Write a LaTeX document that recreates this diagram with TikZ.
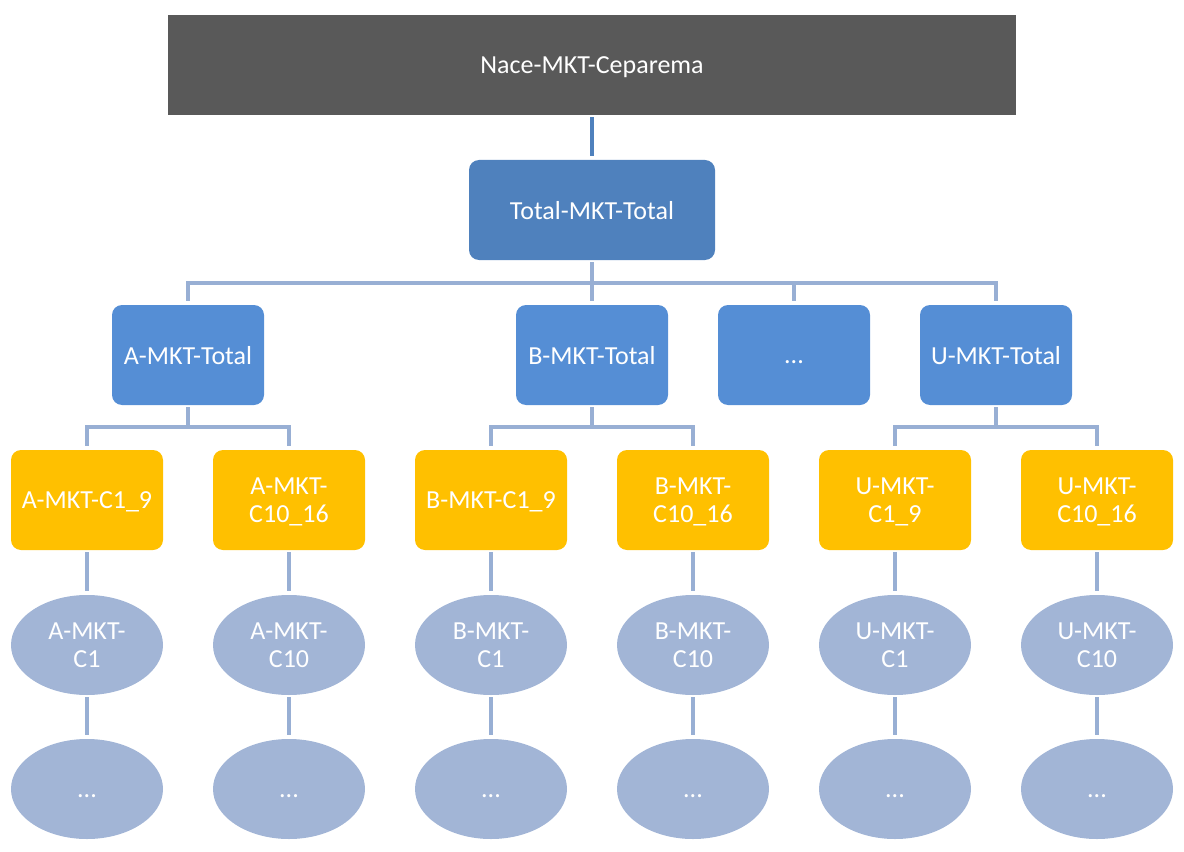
\documentclass[tikz,border=0pt]{standalone}
\usepackage{fontspec}
\setmainfont{Carlito}
\usetikzlibrary{shapes.geometric}
\definecolor{topgray}{HTML}{595959}
\definecolor{totblue}{HTML}{4F81BD}
\definecolor{midblue}{HTML}{558ED5}
\definecolor{gold}{HTML}{FFC000}
\definecolor{ellblue}{HTML}{A2B5D6}
\definecolor{lnblue}{HTML}{98AFD4}
\newcommand{\dotstxt}{\vphantom{T}...}
\tikzset{
  base/.style={inner sep=0pt, align=center, text=white, text depth=0pt, font=\fontsize{19.5pt}{20.5pt}\selectfont},
  topbox/.style={base, fill=topgray, minimum width=636pt, minimum height=75pt},
  totbox/.style={base, fill=totblue, rounded corners=7.5pt, minimum width=184.5pt, minimum height=75pt},
  midbox/.style={base, fill=midblue, rounded corners=7.5pt, minimum width=114pt, minimum height=75pt},
  ylwbox/.style={base, fill=gold, rounded corners=7.5pt, minimum width=114pt, minimum height=75pt},
  ellnode/.style={base, ellipse, fill=ellblue, minimum width=114pt, minimum height=75pt},
  darkconn/.style={draw=totblue, line width=3pt, shorten <=1.5pt, shorten >=3pt},
  conn/.style={draw=lnblue, line width=3pt, shorten <=1.5pt, shorten >=2.5pt}
}
\begin{document}
\begin{tikzpicture}[x=0.75pt,y=-0.75pt]
\useasboundingbox (0,0) rectangle (1184,852);
\node[topbox] (top) at (592,65) {Nace-MKT-Ceparema};
\node[totbox] (tot) at (592,210) {Total-MKT-Total};
\node[midbox] (A) at (188,355) {A-MKT-Total};
\node[midbox] (B) at (592,355) {B-MKT-Total};
\node[midbox] (D) at (794,355) {\dotstxt};
\node[midbox] (U) at (996,355) {U-MKT-Total};
\node[ylwbox] (A1) at (87,500) {A-MKT-C1\_9};
\node[ylwbox] (A2) at (289,500) {A-MKT-\\C10\_16};
\node[ylwbox] (B1) at (491,500) {B-MKT-C1\_9};
\node[ylwbox] (B2) at (693,500) {B-MKT-\\C10\_16};
\node[ylwbox] (U1) at (895,500) {U-MKT-\\C1\_9};
\node[ylwbox] (U2) at (1097,500) {U-MKT-\\C10\_16};
\node[ellnode] (A1e) at (87,645) {A-MKT-\\C1};
\node[ellnode] (A2e) at (289,645) {A-MKT-\\C10};
\node[ellnode] (B1e) at (491,645) {B-MKT-\\C1};
\node[ellnode] (B2e) at (693,645) {B-MKT-\\C10};
\node[ellnode] (U1e) at (895,645) {U-MKT-\\C1};
\node[ellnode] (U2e) at (1097,645) {U-MKT-\\C10};
\node[ellnode] (A1d) at (87,789) {\dotstxt};
\node[ellnode] (A2d) at (289,789) {\dotstxt};
\node[ellnode] (B1d) at (491,789) {\dotstxt};
\node[ellnode] (B2d) at (693,789) {\dotstxt};
\node[ellnode] (U1d) at (895,789) {\dotstxt};
\node[ellnode] (U2d) at (1097,789) {\dotstxt};
% connectors
\draw[darkconn] (top.south) -- (tot.north);
\coordinate (bus0) at (592,283);
\draw[conn, shorten >=0pt] (tot.south) -- (bus0);
\foreach \c in {A,B,D,U} {
  \draw[conn, shorten <=0pt] (bus0) -| (\c.north);
}
\foreach \p/\x in {A/188,B/592,U/996} {
  \coordinate (bus\p) at (\x,427);
  \draw[conn, shorten >=0pt] (\p.south) -- (bus\p);
  \draw[conn, shorten <=0pt] (bus\p) -| (\p1.north);
  \draw[conn, shorten <=0pt] (bus\p) -| (\p2.north);
}
\foreach \c in {A1,A2,B1,B2,U1,U2} {
  \draw[conn] (\c.south) -- (\c e.north);
  \draw[conn] (\c e.south) -- (\c d.north);
}
\end{tikzpicture}
\end{document}
